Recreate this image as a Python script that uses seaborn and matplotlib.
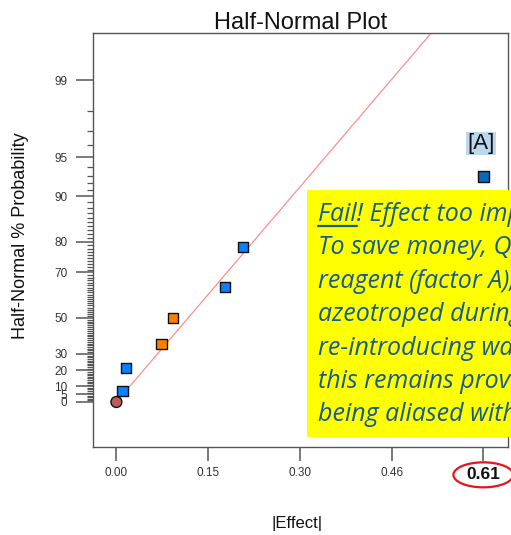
import matplotlib
matplotlib.use("Agg")
import matplotlib.pyplot as plt
import seaborn as sns
import pandas as pd
from statistics import NormalDist
from matplotlib.patches import Ellipse, Rectangle
from matplotlib.lines import Line2D

# ---- data -------------------------------------------------------------
effects = [0.0, 0.010, 0.016, 0.075, 0.094, 0.180, 0.210, 0.61]
probability = [0.0, 7.14, 21.43, 35.71, 50.0, 64.29, 78.57, 92.86]
effect_kind = ["Error", "Negative", "Negative", "Positive", "Positive",
               "Negative", "Negative", "Selected"]
selected_label = "[A]"

prob_ticks = [0, 5, 10, 20, 30, 50, 70, 80, 90, 95, 99]
x_ticks = [0.0, 0.1525, 0.305, 0.4575, 0.61]
x_tick_labels = ["0.00", "0.15", "0.30", "0.46", "0.61"]

ref_slope = 5.64          # half-normal quantile per unit |effect|
ref_start = 0.003

note_lines = [
    "Fail! Effect too important",
    "To save money, QC",
    "reagent (factor A),",
    "azeotroped during",
    "re-introducing water",
    "this remains provided",
    "being aliased with",
]

# ---- helpers ----------------------------------------------------------
_nd = NormalDist()


def half_normal(p):
    """Half-normal quantile for a percentage p."""
    return _nd.inv_cdf(0.5 + p / 200.0)


df = pd.DataFrame({
    "effect": effects,
    "hn": [half_normal(p) for p in probability],
    "kind": effect_kind,
})

# ---- figure -----------------------------------------------------------
sns.set_style("white")
plt.rcParams["font.family"] = ["Liberation Sans", "DejaVu Sans"]

W, H = 511, 535
fig = plt.figure(figsize=(W / 100, H / 100), dpi=100)
ax = fig.add_axes([93 / W, (H - 446.5) / H, 414.5 / W, 413.5 / H])

ax.set_xlim(-0.0389, 0.6502)
ax.set_ylim(-0.356, 2.952)

# reference line
line_x = [ref_start, 0.62]
sns.lineplot(x=line_x, y=[ref_slope * v for v in line_x], ax=ax,
             color="#FF8C8C", linewidth=0.9, zorder=2)

palette = {"Error": "#B85C5C", "Negative": "#0A80FF",
           "Positive": "#FF8000", "Selected": "#0868B8"}
markers = {"Error": "o", "Negative": "s", "Positive": "s", "Selected": "s"}
sizes = {"Error": 62, "Negative": 55, "Positive": 55, "Selected": 62}
sns.scatterplot(data=df, x="effect", y="hn", hue="kind", style="kind",
                size="kind", palette=palette, markers=markers, sizes=sizes,
                edgecolor="#111111", linewidth=1.0, legend=False, ax=ax,
                zorder=3)

# label for the dominant effect
sel = df[df["kind"] == "Selected"].iloc[0]
ax.annotate(selected_label, xy=(sel["effect"], sel["hn"]), xytext=(-1.5, 24),
            textcoords="offset points", ha="center", va="center",
            fontsize=16, color="#111111",
            bbox=dict(boxstyle="square,pad=0.05", fc="#BDD7EE", ec="none"))

# axes / ticks
ax.set_xticks(x_ticks, labels=x_tick_labels)
ax.set_yticks([half_normal(p) for p in prob_ticks],
              labels=[str(p) for p in prob_ticks])
ax.set_yticks([half_normal(p) for p in range(1, 99) if p not in prob_ticks],
              minor=True)

ax.tick_params(axis="x", which="major", length=10, width=1.1, color="#555555",
               labelsize=8.5, labelcolor="#333333", pad=5, direction="out",
               bottom=True)
ax.tick_params(axis="y", which="major", length=12, width=1.1, color="#555555",
               labelsize=8.5, labelcolor="#333333", pad=6.5, direction="out",
               left=True)
ax.tick_params(axis="y", which="minor", length=4.5, width=0.9,
               color="#555555", direction="out", left=True)

last = ax.get_xticklabels()[-1]
last.set_fontweight("bold")
last.set_fontsize(12.5)
last.set_color("#111111")

for s in ax.spines.values():
    s.set_color("#555555")
    s.set_linewidth(1.0)

ax.set_title("Half-Normal Plot", fontsize=17, pad=2.7, color="#111111")
ax.set_xlabel("|Effect|", fontsize=12, color="#111111")
ax.set_ylabel("Half-Normal % Probability", fontsize=13, color="#111111")
ax.xaxis.label.set_va("center")
ax.yaxis.label.set_va("center")
ax.xaxis.set_label_coords(0.493, -0.187)
ax.yaxis.set_label_coords(-0.174, 0.509)

# yellow note box
fig.add_artist(Rectangle((307 / W, (H - 437) / H), 230 / W, 247 / H,
                         transform=fig.transFigure, fc="#FFFF00", ec="none",
                         zorder=5))
note_font = dict(family=["Open Sans", "DejaVu Sans"], style="italic",
                 fontsize=18, color="#175A8C", zorder=6)
baselines = [221 + 33.4 * i for i in range(len(note_lines))]
for line, b in zip(note_lines, baselines):
    fig.text(318 / W, (H - b) / H, line, ha="left", va="baseline",
             **note_font)

fig.canvas.draw()
renderer = fig.canvas.get_renderer()

# underline the verdict word
probe = fig.text(318 / W, (H - baselines[0]) / H, "Fail", ha="left",
                 va="baseline", **note_font)
bb = probe.get_window_extent(renderer)
probe.remove()
uy = (H - baselines[0] - 4.5) / H
fig.add_artist(Line2D([bb.x0 / W, bb.x1 / W], [uy, uy],
                      transform=fig.transFigure, color="#175A8C",
                      linewidth=1.6, zorder=7))

# red ring around the largest effect tick
lb = last.get_window_extent(renderer)
cx, cy = (lb.x0 + lb.x1) / 2, (lb.y0 + lb.y1) / 2
fig.add_artist(Ellipse((cx / W, cy / H), (lb.width + 26) / W,
                       (lb.height + 10) / H, transform=fig.transFigure,
                       fill=False, ec="#E8141C", linewidth=1.6, zorder=7))

fig.savefig("out.png", dpi=100)
